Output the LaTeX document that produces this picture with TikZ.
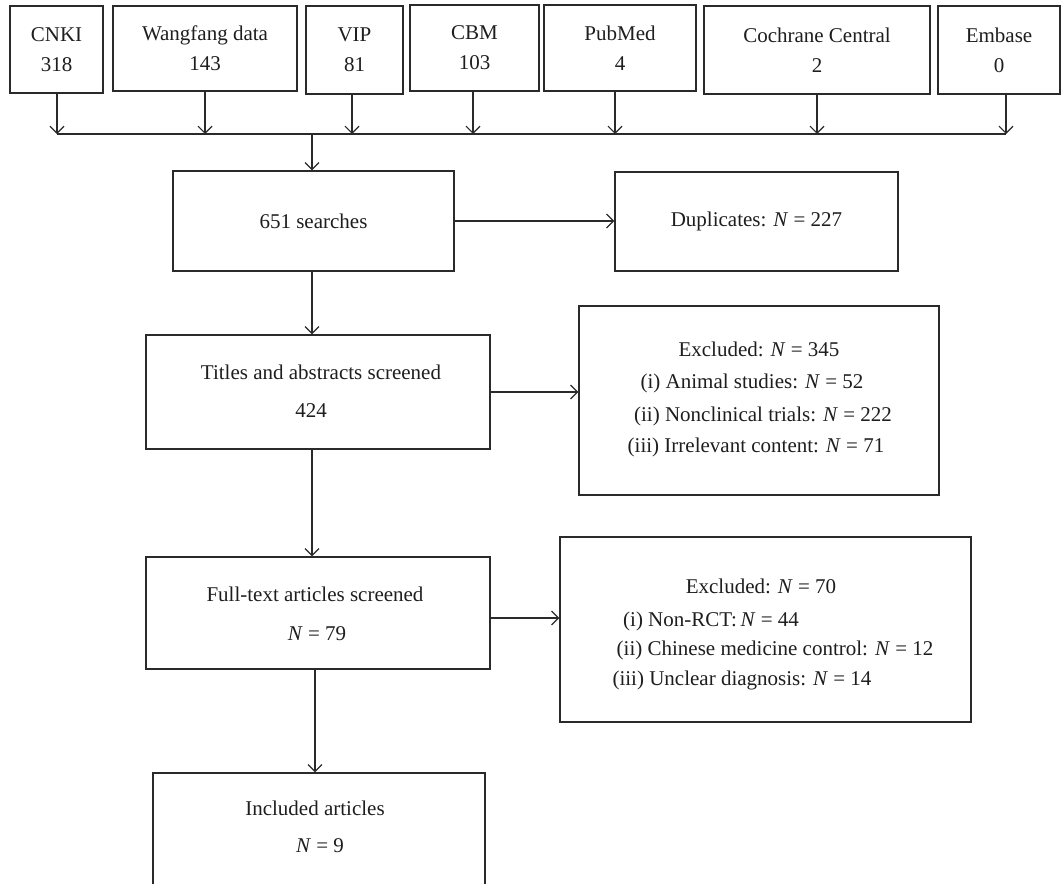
\documentclass[tikz,border=0pt]{standalone}
\usepackage{fontspec}
\setmainfont{Liberation Serif}
\usetikzlibrary{arrows.meta}
\definecolor{lc}{HTML}{2A2A2A}
\definecolor{tc}{HTML}{1E1E1E}
\begin{document}
\begin{tikzpicture}[x=1pt,y=-1pt,
  box/.style={draw=lc, line width=1.2pt, inner sep=0pt, text=tc,
    font=\fontsize{21}{30}\selectfont, align=center},
  lbl/.style={text=tc, inner sep=0pt, anchor=base, font=\fontsize{21}{25}\selectfont},
  arr/.style={draw=lc, line width=1.2pt, -{Straight Barb[length=7pt,width=14pt,line width=1.2pt]}},
  lin/.style={draw=lc, line width=1.2pt}]
\clip (0,0) rectangle (1064,883);
\fill[white] (0,0) rectangle (1064,883);
% top sources
\node[box, minimum width=93pt, minimum height=87pt] (cnki) at (56.5,49.5) {CNKI\\318};
\node[box, minimum width=184pt, minimum height=85pt] (wang) at (205,48.5) {Wangfang data\\143};
\node[box, minimum width=97pt, minimum height=88pt] (vip) at (354.5,50) {VIP\\81};
\node[box, minimum width=129pt, minimum height=86pt] (cbm) at (474.5,48) {CBM\\103};
\node[box, minimum width=152pt, minimum height=86pt] (pub) at (620,48) {PubMed\\4};
\node[box, minimum width=226pt, minimum height=88pt] (coch) at (817,50) {Cochrane Central\\2};
\node[box, minimum width=122pt, minimum height=88pt] (emb) at (999,50) {Embase\\0};
\coordinate (busL) at (57,134);
\coordinate (busR) at (1006,134);
\coordinate (busC) at (312,134);
\draw[lin] (busL) -- (busR);
\draw[arr] ([xshift=0.5pt]cnki.south) -- ([xshift=0.5pt]cnki.south |- busL);
\draw[arr] (wang.south) -- (wang.south |- busL);
\draw[arr] ([xshift=-2.5pt]vip.south) -- ([xshift=-2.5pt]vip.south |- busL);
\draw[arr] ([xshift=-1.5pt]cbm.south) -- ([xshift=-1.5pt]cbm.south |- busL);
\draw[arr] ([xshift=-5pt]pub.south) -- ([xshift=-5pt]pub.south |- busL);
\draw[arr] (coch.south) -- (coch.south |- busL);
\draw[arr] ([xshift=7pt]emb.south) -- (busR);
% main flow
\node[box, minimum width=281pt, minimum height=100pt] (s651) at (313.5,221) {651 searches};
\node[box, minimum width=283pt, minimum height=99pt] (dup) at (756.5,221.5) {Duplicates: \textit{N} = 227};
\node[box, minimum width=344pt, minimum height=114pt] (titles) at (318,392) {};
\node[box, minimum width=360pt, minimum height=189pt] (ex1) at (759,400.5) {};
\node[box, minimum width=344pt, minimum height=112pt] (full) at (318,613) {};
\node[box, minimum width=411pt, minimum height=185pt] (ex2) at (765.5,629.5) {};
\node[box, minimum width=332pt, minimum height=200pt] (incl) at (319,873) {};
% texts
\node[lbl] (t1) at (321,379) {Titles and abstracts screened};
\node[lbl] (t2) at (311,417) {424};
\node[lbl] (e11) at (759,356) {Excluded: \textit{N} = 345};
\node[lbl] (e12) at (752,388) {(i) Animal studies: \textit{N} = 52};
\node[lbl] (e13) at (763,421) {(ii) Nonclinical trials: \textit{N} = 222};
\node[lbl] (e14) at (756,452) {(iii) Irrelevant content: \textit{N} = 71};
\node[lbl] (f1) at (315,601) {Full-text articles screened};
\node[lbl] (f2) at (317,640) {\textit{N} = 79};
\node[lbl] (e21) at (761,593) {Excluded: \textit{N} = 70};
\node[lbl] (e22) at (711,626) {(i) Non-RCT:\,\textit{N} = 44};
\node[lbl] (e23) at (775,655) {(ii) Chinese medicine control: \textit{N} = 12};
\node[lbl] (e24) at (742,685) {(iii) Unclear diagnosis: \textit{N} = 14};
\node[lbl] (i1) at (315,815) {Included articles};
\node[lbl] (i2) at (320,852) {\textit{N} = 9};
% connectors
\draw[arr] (busC) -- (busC |- s651.north);
\draw[arr] (s651.east) -- (s651.east -| dup.west);
\draw[arr] ([xshift=-1.5pt]s651.south) -- ([xshift=-6pt]titles.north);
\draw[arr] (titles.east) -- (titles.east -| ex1.west);
\draw[arr] ([xshift=-6pt]titles.south) -- ([xshift=-6pt]full.north);
\draw[arr] ([yshift=-5pt]full.east) -- ([yshift=-5pt]full.east -| ex2.west);
\draw[arr] ([xshift=-3pt]full.south) -- ([xshift=-3pt]full.south |- incl.north);
\end{tikzpicture}
\end{document}
